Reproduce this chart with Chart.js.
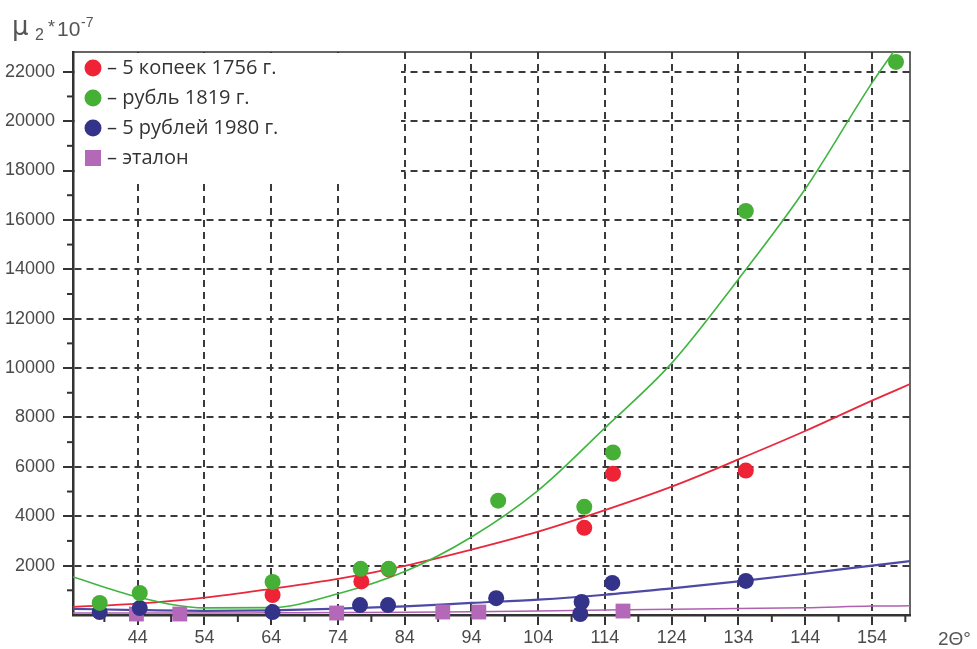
<!DOCTYPE html>
<html>
<head>
<meta charset="utf-8">
<script src="https://cdn.jsdelivr.net/npm/chart.js@4.4.0/dist/chart.umd.min.js"></script>
<style>
  html, body { margin: 0; padding: 0; background: #fff; }
  #wrap { width: 977px; height: 649px; }
</style>
</head>
<body>
<div id="wrap"><canvas id="chart"></canvas></div>
<script>
// axis ticks
const xTicks = [44, 54, 64, 74, 84, 94, 104, 114, 124, 134, 144, 154];
const yTicks = [2000, 4000, 6000, 8000, 10000, 12000, 14000, 16000, 18000, 20000, 22000];

const seriesNames = ["– 5 копеек 1756 г.", "– рубль 1819 г.", "– 5 рублей 1980 г.", "– эталон"];

// measured points (2Θ, μ2*10^-7)
const kopAngle = [64.2, 77.5, 81.6, 110.9, 115.2, 135.1];
const kopVal = [810, 1360, 1850, 3530, 5720, 5850];

const rubAngle = [38.3, 44.3, 64.2, 77.4, 81.6, 98.0, 110.9, 115.2, 135.1, 157.6];
const rubVal = [490, 890, 1340, 1870, 1870, 4630, 4380, 6580, 16360, 22400];

const r80Angle = [38.3, 44.3, 64.2, 77.3, 81.5, 97.7, 110.5, 110.3, 115.1, 135.1];
const r80Val = [120, 280, 120, 400, 400, 680, 530, 40, 1300, 1380];

const etAngle = [43.8, 50.3, 73.8, 89.7, 95.1, 116.7];
const etVal = [40, 40, 80, 120, 120, 160];

// trend curves
const trendAngle = [34.3, 44, 54, 64, 74, 84, 94, 104, 114, 124, 134, 144, 154, 159.7];
const kopTrend = [330, 460, 700, 1060, 1460, 1990, 2650, 3380, 4250, 5200, 6300, 7450, 8680, 9350];
const r80Trend = [250, 200, 170, 190, 260, 350, 490, 620, 820, 1080, 1360, 1670, 2000, 2180];
const etTrend = [80, 80, 80, 90, 100, 110, 130, 160, 200, 230, 260, 290, 360, 370];

const rubTrendAngle = [34.3, 44, 54, 64, 74, 84, 94, 104, 114, 124, 134, 144, 154, 157.2];
const rubTrend = [1540, 730, 290, 300, 860, 1760, 3160, 5050, 7580, 10200, 13600, 17250, 21550, 22800];

const colors = {
    kop: "#ee2436",
    rub: "#45b035",
    r80: "#34338a",
    et: "#b468b8"
};

const axisFont = "'Liberation Sans', Arial, sans-serif";
const textFont = "'Open Sans', sans-serif";
const ink = "#333";

function pts(xs, ys) {
    return xs.map((x, i) => ({ x: x, y: ys[i] }));
}

// frame, minor ticks, legend box and axis titles
const extras = {
    id: "extras",
    beforeDatasetsDraw(chart) {
        const { ctx, chartArea: a } = chart;
        const xs = chart.scales.x, ys = chart.scales.y;
        ctx.save();

        ctx.strokeStyle = ink;
        ctx.lineWidth = 1.5;
        ctx.beginPath();
        ctx.moveTo(a.left, a.top);
        ctx.lineTo(a.right, a.top);
        ctx.lineTo(a.right, a.bottom);
        ctx.stroke();

        ctx.lineWidth = 2;
        const xMinor = xTicks.map(v => v - 5).concat([xTicks[xTicks.length - 1] + 5]);
        xMinor.forEach(v => {
            const px = xs.getPixelForValue(v);
            ctx.beginPath();
            ctx.moveTo(px, a.bottom);
            ctx.lineTo(px, a.bottom + 7);
            ctx.stroke();
        });
        const yMinor = yTicks.map(v => v - 1000);
        yMinor.forEach(v => {
            const py = ys.getPixelForValue(v);
            ctx.beginPath();
            ctx.moveTo(a.left - 6, py);
            ctx.lineTo(a.left, py);
            ctx.stroke();
        });

        // legend
        ctx.fillStyle = "#fff";
        ctx.fillRect(a.left + 2, a.top + 1, 326, 126);
        const marks = [colors.kop, colors.rub, colors.r80, colors.et];
        ctx.font = "20px " + textFont;
        ctx.textBaseline = "middle";
        seriesNames.forEach((name, i) => {
            const cy = a.top + 16 + i * 30;
            const cx = a.left + 20;
            ctx.fillStyle = marks[i];
            if (i === 3) {
                ctx.fillRect(cx - 8, cy - 8, 16, 16);
            } else {
                ctx.beginPath();
                ctx.arc(cx, cy, 8.5, 0, Math.PI * 2);
                ctx.fill();
            }
            ctx.fillStyle = ink;
            ctx.fillText(name, cx + 14, cy);
        });
        ctx.restore();
    },
    afterDraw(chart) {
        const { ctx } = chart;
        ctx.save();
        ctx.fillStyle = "#555";
        ctx.textBaseline = "alphabetic";
        ctx.font = "26px 'DejaVu Sans', sans-serif";
        ctx.fillText("μ", 12, 35);
        ctx.font = "16px " + axisFont;
        ctx.fillText("2", 35, 40);
        ctx.font = "18px " + axisFont;
        ctx.fillText("*", 48, 33);
        ctx.font = "21px " + axisFont;
        ctx.fillText("10", 57, 36);
        ctx.font = "14px " + axisFont;
        ctx.fillText("-7", 81, 27);
        ctx.font = "19px " + axisFont;
        ctx.fillText("2Θ°", 938, 645);
        ctx.restore();
    }
};

const ctx = document.getElementById("chart").getContext("2d");
const chart = new Chart(ctx, {
    type: "scatter",
    data: {
        datasets: [
            {
                label: seriesNames[1],
                data: pts(rubAngle, rubVal),
                backgroundColor: colors.rub,
                borderWidth: 0,
                pointRadius: 8,
                clip: false
            },
            {
                label: seriesNames[0],
                data: pts(kopAngle, kopVal),
                backgroundColor: colors.kop,
                borderWidth: 0,
                pointRadius: 8,
                clip: false
            },
            {
                label: seriesNames[2],
                data: pts(r80Angle, r80Val),
                backgroundColor: colors.r80,
                borderWidth: 0,
                pointRadius: 8,
                clip: false
            },
            {
                label: seriesNames[3],
                data: pts(etAngle, etVal),
                backgroundColor: colors.et,
                borderWidth: 0,
                pointStyle: "rect",
                pointRadius: 10.5,
                clip: false
            },
            {
                type: "line",
                data: pts(rubTrendAngle, rubTrend),
                borderColor: "#3fb53f",
                borderWidth: 1.6,
                pointRadius: 0,
                cubicInterpolationMode: "monotone"
            },
            {
                type: "line",
                data: pts(trendAngle, kopTrend),
                borderColor: "#e8283c",
                borderWidth: 1.8,
                pointRadius: 0,
                cubicInterpolationMode: "monotone"
            },
            {
                type: "line",
                data: pts(trendAngle, r80Trend),
                borderColor: "#4d4aa6",
                borderWidth: 2.2,
                pointRadius: 0,
                cubicInterpolationMode: "monotone"
            },
            {
                type: "line",
                data: pts(trendAngle, etTrend),
                borderColor: "#b060b0",
                borderWidth: 1.5,
                pointRadius: 0,
                cubicInterpolationMode: "monotone"
            }
        ]
    },
    options: {
        responsive: true,
        maintainAspectRatio: false,
        animation: false,
        layout: { padding: { top: 52, right: 67, left: 0, bottom: 0 } },
        plugins: {
            legend: { display: false },
            tooltip: { enabled: false }
        },
        scales: {
            x: {
                type: "linear",
                min: 34.3,
                max: 159.7,
                afterBuildTicks: s => { s.ticks = xTicks.map(v => ({ value: v })); },
                afterFit: s => { s.height = 34; },
                ticks: {
                    font: { size: 18, family: axisFont },
                    color: "#4a4a4a",
                    padding: 2,
                    maxRotation: 0,
                    callback: v => v
                },
                grid: {
                    color: "#3a3a3a",
                    lineWidth: 2,
                    tickLength: 10,
                    tickColor: ink,
                    tickWidth: 2,
                    tickBorderDash: []
                },
                border: { color: ink, width: 2.5, dash: [7, 5] }
            },
            y: {
                min: 0,
                max: 22800,
                afterBuildTicks: s => { s.ticks = yTicks.map(v => ({ value: v })); },
                afterFit: s => { s.width = 73; },
                ticks: {
                    font: { size: 18, family: axisFont },
                    color: "#4a4a4a",
                    padding: 8,
                    callback: v => v
                },
                grid: {
                    color: "#3a3a3a",
                    lineWidth: 2,
                    tickLength: 10,
                    tickColor: ink,
                    tickWidth: 2,
                    tickBorderDash: []
                },
                border: { color: ink, width: 2.5, dash: [7, 5] }
            }
        }
    },
    plugins: [extras]
});
</script>
</body>
</html>
